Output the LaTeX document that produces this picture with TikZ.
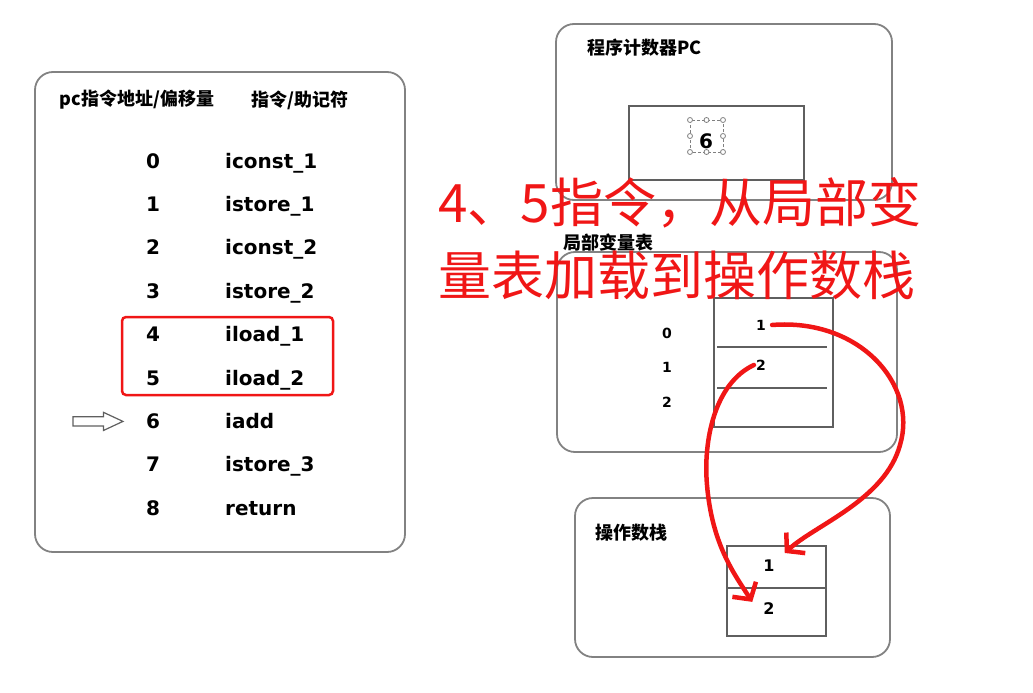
\documentclass[tikz,border=0pt]{standalone}
\usepackage{fontspec}
\setmainfont{DejaVu Sans}
\newfontfamily\cjk{Noto Sans CJK SC}
\usetikzlibrary{positioning,shapes.arrows,arrows.meta,calc}
\definecolor{boxgray}{RGB}{130,130,130}
\definecolor{cellgray}{RGB}{95,95,95}
\definecolor{penred}{RGB}{240,22,22}
\tikzset{
panel/.style={draw=boxgray, line width=1.8pt, rounded corners=18pt}, % outer frames
cell/.style={draw=cellgray, line width=1.5pt},
title/.style={font=\cjk\bfseries\fontsize{18}{20}\selectfont, inner sep=0pt},
num/.style={font=\bfseries\fontsize{20}{24}\selectfont, text height=15pt, text depth=1pt, inner sep=0pt},
instr/.style={num, anchor=west},
small/.style={font=\bfseries\fontsize{14}{16}\selectfont, inner sep=0pt},
bigred/.style={font=\cjk\fontsize{53}{60}\selectfont, text=penred, inner sep=0pt, anchor=base west},
pen/.style={draw=penred, line width=4.5pt, line cap=round, line join=round},
}

\begin{document}
\begin{tikzpicture}[x=1pt,y=-1pt,on grid,auto]
   \useasboundingbox (0,0) rectangle (1033,693);
   % instruction list
   \draw[panel] (35,72) rectangle (405,552);
   \node[title] (hdpc) at (137,100) {pc指令地址/偏移量};
   \node[title] (hdop) at (300,100) {指令/助记符};
   \node[num] (n0) at (153,161) {0};
   \node[num] (n1) [below=43.4pt of n0] {1};
   \node[num] (n2) [below=43.4pt of n1] {2};
   \node[num] (n3) [below=43.4pt of n2] {3};
   \node[num] (n4) [below=43.4pt of n3] {4};
   \node[num] (n5) [below=43.4pt of n4] {5};
   \node[num] (n6) [below=43.4pt of n5] {6};
   \node[num] (n7) [below=43.4pt of n6] {7};
   \node[num] (n8) [below=43.4pt of n7] {8};
   \node[instr, right=72pt of n0, anchor=west] (c0) {iconst\_1};
   \node[instr, right=72pt of n1, anchor=west] (c1) {istore\_1};
   \node[instr, right=72pt of n2, anchor=west] (c2) {iconst\_2};
   \node[instr, right=72pt of n3, anchor=west] (c3) {istore\_2};
   \node[instr, right=72pt of n4, anchor=west] (c4) {iload\_1};
   \node[instr, right=72pt of n5, anchor=west] (c5) {iload\_2};
   \node[instr, right=72pt of n6, anchor=west] (c6) {iadd};
   \node[instr, right=72pt of n7, anchor=west] (c7) {istore\_3};
   \node[instr, right=72pt of n8, anchor=west] (c8) {return};
   \draw[penred, line width=2.5pt, rounded corners=4pt] (122,317) rectangle (333,395);
   \node[single arrow, draw=cellgray, line width=1.2pt, inner sep=4pt,
         minimum height=50pt, single arrow head extend=4.5pt,
         single arrow tip angle=50] (ptr) [left=60pt of n6] {};

   % program counter
   \draw[panel] (556,24) rectangle (892,200);
   \node[title, anchor=west] (pct) at (587,48) {程序计数器PC};
   \draw[cell] (629,106) rectangle (804,180);
   \draw[gray, densely dashed, line width=0.6pt] (690,120) rectangle (723,152);
   \draw[gray, fill=white, line width=0.8pt]
      (690,120) circle (2.5pt) (706.5,120) circle (2.5pt) (723,120) circle (2.5pt)
      (690,136) circle (2.5pt) (723,136) circle (2.5pt)
      (690,152) circle (2.5pt) (706.5,152) circle (2.5pt) (723,152) circle (2.5pt);
   \node[num] (pcv) at (706,141) {6};

   % local variables
   \draw[panel] (557,252) rectangle (897,452);
   \node[title, anchor=west] (lvt) at (563,243) {局部变量表};
   \draw[cell] (714,298) rectangle (833,427);
   \draw[cell] (717,347) -- (827,347);
   \draw[cell] (717,388) -- (827,388);
   \node[small] (li0) at (667,333) {0};
   \node[small] (li1) at (667,367) {1};
   \node[small] (li2) at (667,402) {2};
   \node[small] (lv1) at (761,325) {1};
   \node[small] (lv2) at (761,365) {2};

   % operand stack
   \draw[panel] (575,498) rectangle (890,657);
   \node[title, anchor=west] (stt) at (595,533) {操作数栈};
   \draw[cell] (727,546) rectangle (826,636);
   \draw[cell] (727,588) -- (826,588);
   \node[small, font=\bfseries\fontsize{16}{18}\selectfont] (st1) at (769,566) {1};
   \node[small, font=\bfseries\fontsize{16}{18}\selectfont] (st2) at (769,609) {2};

   % note
   \node[bigred] (note1) at (438,222) {4、5指令，从局部变};
   \node[bigred, below=73pt of note1.base west, anchor=base west] (note2) {量表加载到操作数栈};

   % loads
   \draw[pen, -{Straight Barb[length=12pt,width=28pt]}]
      ([xshift=6pt]lv1.east) .. controls (860,318) and (918,385) .. (900,445)
      .. controls (885,500) and (815,525) .. ([shift={(10,-7)}]st1.north east);
   \draw[pen, -{Straight Barb[length=12pt,width=28pt]}]
      ([xshift=-2pt]lv2.west) .. controls (715,383) and (703,440) .. (707,485)
      .. controls (712,545) and (735,575) .. ([shift={(-11,-1)}]st2.north west);
\end{tikzpicture}
\end{document}
